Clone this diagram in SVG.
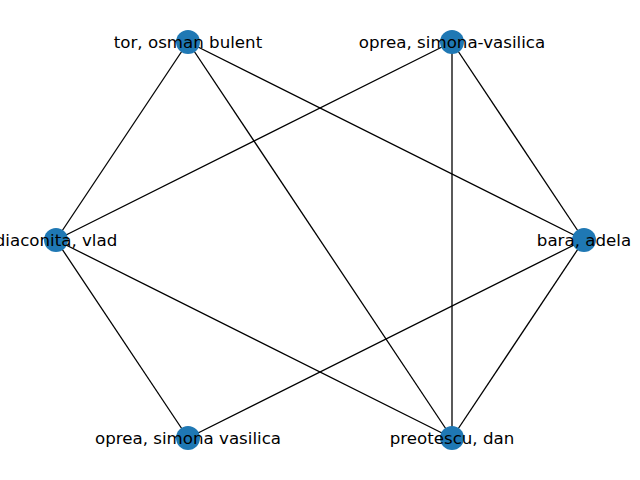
<svg xmlns="http://www.w3.org/2000/svg" width="640" height="480" viewBox="0 0 640 480">
<style>
.e{stroke:#000;stroke-width:1.3;fill:none}
.n{fill:#1f78b4}
.t{font-family:"DejaVu Sans",sans-serif;font-size:16.67px;fill:#000;text-anchor:middle}
</style>
<rect width="640" height="480" fill="#fff"/>
<g id="edges">
<line class="e" x1="188" y1="42" x2="56" y2="240"/>
<line class="e" x1="188" y1="42" x2="452" y2="438"/>
<line class="e" x1="188" y1="42" x2="584" y2="240"/>
<line class="e" x1="452" y1="42" x2="56" y2="240"/>
<line class="e" x1="452" y1="42" x2="452" y2="438"/>
<line class="e" x1="452" y1="42" x2="584" y2="240"/>
<line class="e" x1="56" y1="240" x2="188" y2="438"/>
<line class="e" x1="56" y1="240" x2="452" y2="438"/>
<line class="e" x1="584" y1="240" x2="188" y2="438"/>
<line class="e" x1="584" y1="240" x2="452" y2="438"/>
</g>
<g id="n1"><circle class="n" cx="188" cy="42" r="12"/><text class="t" x="188" y="48">tor, osman bulent</text></g>
<g id="n2"><circle class="n" cx="452" cy="42" r="12"/><text class="t" x="452" y="48">oprea, simona-vasilica</text></g>
<g id="n3"><circle class="n" cx="56" cy="240" r="12"/><text class="t" x="56" y="246">diaconita, vlad</text></g>
<g id="n4"><circle class="n" cx="584" cy="240" r="12"/><text class="t" x="584" y="246">bara, adela</text></g>
<g id="n5"><circle class="n" cx="188" cy="438" r="12"/><text class="t" x="188" y="444">oprea, simona vasilica</text></g>
<g id="n6"><circle class="n" cx="452" cy="438" r="12"/><text class="t" x="452" y="444">preotescu, dan</text></g>
</svg>
